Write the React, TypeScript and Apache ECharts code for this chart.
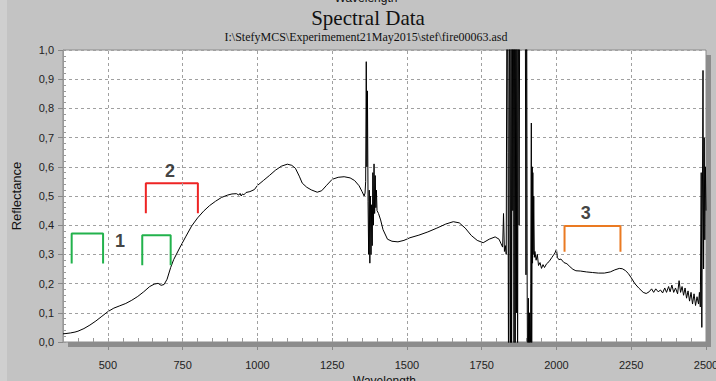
import React, { useEffect, useRef } from "react";
import * as echarts from "echarts";

// Spectrum: [wavelength (nm), reflectance]
const spectrum: [number, number][] = [
  [350, 0.028], [360, 0.029], [375, 0.031], [390, 0.034], [400, 0.037], [420, 0.046], [440, 0.058], [460, 0.072],
  [480, 0.088], [500, 0.104], [520, 0.116], [540, 0.124], [560, 0.132], [580, 0.143], [600, 0.156], [620, 0.172],
  [640, 0.19], [655, 0.198], [668, 0.201], [678, 0.194], [688, 0.197], [698, 0.215], [710, 0.255], [720, 0.282],
  [740, 0.322], [760, 0.36], [780, 0.397], [800, 0.425], [820, 0.448], [840, 0.467], [860, 0.482], [880, 0.495],
  [900, 0.503], [915, 0.507], [930, 0.508], [938, 0.503], [942, 0.509], [946, 0.5], [950, 0.507], [955, 0.504],
  [962, 0.512], [975, 0.515], [990, 0.522], [1000, 0.536], [1020, 0.553], [1040, 0.57], [1060, 0.588], [1080, 0.602],
  [1100, 0.609], [1115, 0.605], [1127, 0.595], [1140, 0.568], [1150, 0.544], [1165, 0.53], [1180, 0.521], [1200, 0.513],
  [1215, 0.518], [1230, 0.535], [1250, 0.557], [1270, 0.564], [1290, 0.566], [1310, 0.562], [1325, 0.553], [1340, 0.535],
  [1350, 0.515], [1357, 0.5],
  [1360, 0.51], [1362, 0.55], [1364, 0.96], [1366, 0.6], [1368, 0.86], [1370, 0.48], [1372, 0.3], [1374, 0.52],
  [1376, 0.27], [1378, 0.5], [1380, 0.3], [1382, 0.47], [1384, 0.33], [1386, 0.58], [1388, 0.4], [1390, 0.61],
  [1392, 0.44], [1394, 0.57], [1396, 0.46], [1398, 0.52], [1400, 0.45], [1405, 0.44], [1412, 0.418], [1420, 0.385],
  [1435, 0.352], [1450, 0.345], [1470, 0.343], [1490, 0.348], [1510, 0.357], [1540, 0.366], [1570, 0.377], [1600, 0.39],
  [1630, 0.404], [1655, 0.412], [1675, 0.408], [1695, 0.39], [1715, 0.365], [1735, 0.348], [1755, 0.34], [1775, 0.352],
  [1795, 0.36], [1808, 0.352], [1815, 0.336], [1820, 0.325], [1823, 0.44], [1826, 0.31], [1829, 0.33], [1832, 0.3],
  [1835, 1.5], [1838, 0.65], [1840, -0.3], [1842, 1.5], [1844, 0.7], [1846, -0.3], [1848, 1.5], [1850, -0.3],
  [1852, 1.5], [1854, 0.45], [1856, 1.5], [1858, -0.3], [1860, 1.5], [1862, -0.3], [1864, 1.5], [1866, 0.1],
  [1868, 1.5], [1870, -0.3], [1872, 1.5], [1875, 0.4], [1878, 1.5], [1895, 1.5], [1898, 0.23], [1900, 1.5],
  [1902, 0.2], [1904, -0.3], [1906, 0.15], [1908, -0.3], [1910, 0.1], [1912, -0.3], [1914, 0.2], [1916, 0.75],
  [1917, -0.3], [1919, 0.6], [1920, 0.27], [1921, 0.58], [1922, 0.3], [1924, 0.5], [1926, 0.29], [1928, 0.31],
  [1932, 0.28], [1936, 0.3], [1940, 0.262], [1945, 0.272], [1950, 0.252], [1955, 0.265], [1960, 0.255], [1967, 0.268],
  [1975, 0.275], [1985, 0.29], [1995, 0.305], [2000, 0.318], [2003, 0.29], [2008, 0.282], [2015, 0.284], [2025, 0.272],
  [2035, 0.268], [2045, 0.258], [2055, 0.249], [2065, 0.244], [2080, 0.243], [2100, 0.24], [2120, 0.238], [2140, 0.236],
  [2160, 0.236], [2180, 0.24], [2195, 0.247], [2210, 0.252], [2220, 0.251], [2230, 0.245], [2240, 0.235], [2250, 0.22],
  [2262, 0.2], [2275, 0.185], [2290, 0.17], [2300, 0.166], [2310, 0.172], [2318, 0.182], [2325, 0.17], [2332, 0.182],
  [2340, 0.172], [2348, 0.178], [2355, 0.168], [2362, 0.185], [2368, 0.17], [2375, 0.19], [2380, 0.172], [2386, 0.195],
  [2392, 0.17], [2398, 0.185], [2405, 0.165], [2410, 0.21], [2415, 0.17], [2420, 0.19], [2425, 0.16], [2430, 0.185],
  [2435, 0.15], [2440, 0.175], [2445, 0.14], [2450, 0.17], [2455, 0.13], [2460, 0.165], [2465, 0.125], [2470, 0.155],
  [2475, 0.13], [2478, 0.17], [2481, 0.12], [2484, 0.58], [2486, 0.05], [2488, 0.5], [2490, 0.93], [2492, 0.25],
  [2494, 0.7], [2496, 0.35], [2498, 0.6], [2500, 0.45],
];

// X axis major ticks
const xMajorTicks = [500, 750, 1000, 1250, 1500, 1750, 2000, 2250, 2500];

// Annotation brackets (data coordinates)
const bracketX1 = [379, 615, 627, 2027];
const bracketX2 = [484, 710, 801, 2214];
const bracketBottom = [0.269, 0.263, 0.441, 0.309];
const bracketTop = [0.372, 0.366, 0.544, 0.397];
const bracketColors = ["#22b24c", "#22b24c", "#ee2424", "#ea7a22"];

const labelTexts = ["1", "2", "3"];
const labelX = [541, 708, 2098];
const labelY = [0.366, 0.607, 0.463];

const xMin = 350;
const xMax = 2500;
const title = "Spectral Data";
const subtitle = "I:\\StefyMCS\\Experimement21May2015\\stef\\fire00063.asd";

const SANS = '"Liberation Sans", Arial, sans-serif';
const SERIF = '"Liberation Serif", "Times New Roman", serif';

export default function App() {
  const ref = useRef<HTMLDivElement>(null);
  useEffect(() => {
    if (!ref.current) return;
    const chart = echarts.init(ref.current, undefined, { renderer: "svg" });
    const gridLeft = 63, gridTop = 50, gridRight = 10, gridBottom = 39;
    const W = 716, H = 381;
    const gx2 = W - gridRight, gy2 = H - gridBottom;

    const bracketSeries = bracketX1.map((x1, i) => ({
      type: "line",
      data: [
        [x1, bracketBottom[i]],
        [x1, bracketTop[i]],
        [bracketX2[i], bracketTop[i]],
        [bracketX2[i], bracketBottom[i]],
      ],
      symbol: "none",
      lineStyle: { color: bracketColors[i], width: 2 },
      z: 4,
      silent: true,
    }));

    chart.setOption({
      animation: false,
      backgroundColor: "#c3c3c3",
      grid: {
        left: gridLeft, top: gridTop, right: gridRight, bottom: gridBottom,
        outerBoundsMode: "none", containLabel: false,
        show: true, backgroundColor: "#ffffff", borderColor: "#8a8a8a", borderWidth: 1,
      },
      graphic: [
        { type: "rect", shape: { x: 0, y: 0, width: 7, height: H }, style: { fill: "#cfcfcf" }, z: -1 },
        { type: "rect", shape: { x: gx2, y: gridTop + 5, width: 5, height: gy2 - gridTop }, style: { fill: "#8c8c8c" }, z: 1 },
        { type: "rect", shape: { x: gridLeft + 5, y: gy2, width: gx2 - gridLeft, height: 5 }, style: { fill: "#8c8c8c" }, z: 1 },
        { type: "text", x: 366, y: -2, style: { text: "Wavelength", font: `12px ${SANS}`, fill: "#111", textAlign: "center", textVerticalAlign: "middle" } },
        { type: "text", x: 368, y: 18, style: { text: title, font: `21px ${SERIF}`, fill: "#111", textAlign: "center", textVerticalAlign: "middle" } },
        { type: "text", x: 366, y: 37, style: { text: subtitle, font: `12px ${SERIF}`, fill: "#111", textAlign: "center", textVerticalAlign: "middle" } },
      ],
      xAxis: [
        {
          type: "value", min: xMin, max: xMax, position: "bottom",
          name: "Wavelength", nameLocation: "middle", nameGap: 30,
          nameTextStyle: { fontFamily: SANS, fontSize: 12, color: "#111" },
          axisLine: { show: false },
          axisTick: { show: true, length: 8, customValues: xMajorTicks, lineStyle: { color: "#888" } },
          axisLabel: {
            show: true, margin: 17, fontFamily: SANS, fontSize: 11, color: "#222",
            customValues: xMajorTicks,
            formatter: (v: number) => String(v),
          },
          splitLine: { show: false },
        },
        {
          type: "value", min: xMin, max: xMax, interval: 50, position: "bottom",
          axisLine: { show: false },
          axisTick: { show: true, inside: true, length: 4, lineStyle: { color: "#999" } },
          axisLabel: { show: false },
          splitLine: { show: false },
        },
      ],
      yAxis: [
        {
          type: "value", min: 0, max: 1, interval: 0.1, position: "left",
          name: "Reflectance", nameLocation: "middle", nameGap: 40, nameRotate: 90,
          nameTextStyle: { fontFamily: SANS, fontSize: 13, color: "#111" },
          axisLine: { show: true, lineStyle: { color: "#999" } },
          axisTick: { show: true, length: 5, lineStyle: { color: "#888" } },
          axisLabel: {
            margin: 9, fontFamily: SANS, fontSize: 11, color: "#222",
            formatter: (v: number) => v.toFixed(1).replace(".", ","),
          },
          splitLine: { show: true, lineStyle: { color: "#a0a0a0", type: [3, 3], width: 1 } },
        },
        {
          type: "value", min: 0, max: 1, interval: 0.02, position: "left",
          axisLine: { show: false },
          axisTick: { show: true, inside: true, length: 3, lineStyle: { color: "#999" } },
          axisLabel: { show: false },
          splitLine: { show: false },
        },
      ],
      series: [
        {
          type: "line",
          data: [],
          symbol: "none",
          z: 1,
          silent: true,
          markLine: {
            silent: true,
            symbol: "none",
            label: { show: false },
            lineStyle: { color: "#a0a0a0", type: [3, 3], width: 1 },
            data: xMajorTicks.filter((v) => v < xMax).map((v) => ({ xAxis: v })),
          },
        },
        {
          type: "line",
          data: spectrum,
          symbol: "none",
          clip: true,
          lineStyle: { color: "#000", width: 1 },
          z: 3,
        },
        ...bracketSeries,
        {
          type: "scatter",
          symbolSize: 0,
          data: labelTexts.map((t, i) => ({ name: t, value: [labelX[i], labelY[i]] })),
          label: {
            show: true, position: "inside", offset: [0, 6], formatter: (p: any) => p.name,
            fontFamily: SANS, fontSize: 18, fontWeight: "bold", color: "#111",
          },
          z: 5,
          silent: true,
        },
      ],
    });
    return () => chart.dispose();
  }, []);
  return <div ref={ref} style={{ position: "fixed", left: 0, top: 0, width: 716, height: 381 }} />;
}
